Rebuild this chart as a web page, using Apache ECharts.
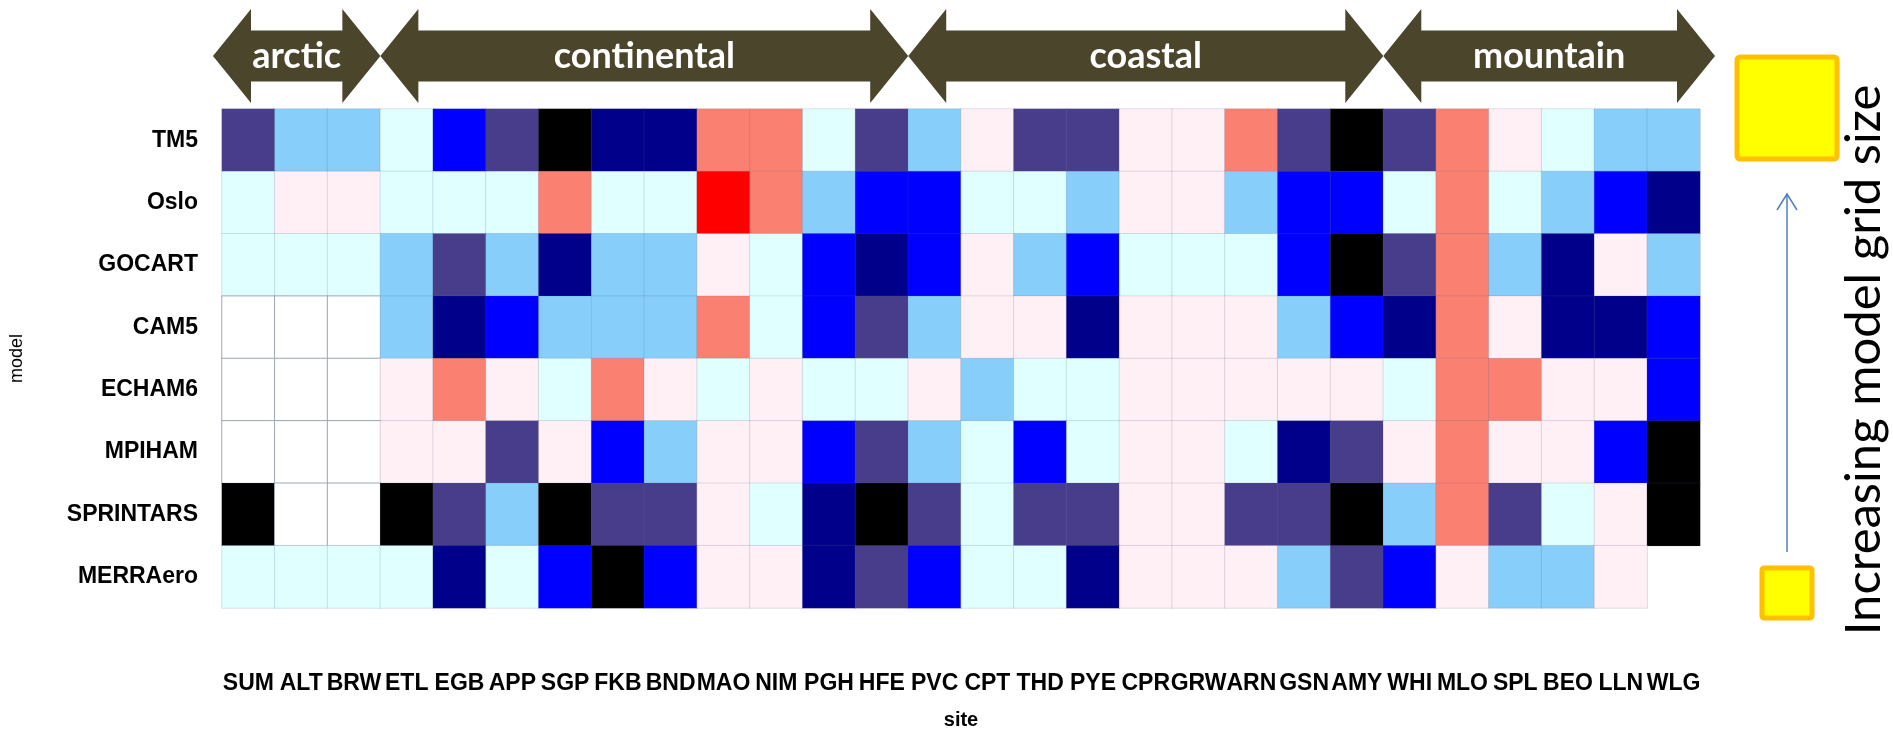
<!DOCTYPE html>
<html><head><meta charset="utf-8">
<script src="https://cdn.jsdelivr.net/npm/echarts@6/dist/echarts.min.js"></script>
<style>html,body{margin:0;padding:0;background:#fff}#c{width:1893px;height:735px}</style>
</head><body><div id="c"></div><script>
// ---- data ----
const sites = ['SUM','ALT','BRW','ETL','EGB','APP','SGP','FKB','BND','MAO','NIM','PGH','HFE','PVC','CPT','THD','PYE','CPR','GRW','ARN','GSN','AMY','WHI','MLO','SPL','BEO','LLN','WLG'];
const models = ['TM5','Oslo','GOCART','CAM5','ECHAM6','MPIHAM','SPRINTARS','MERRAero'];
// class codes per site (K black, N navy, B blue, S slate, L light sky, C light cyan, P blush, O salmon, R red, W no data, null missing)
const rowTM5      = ['S','L','L','C','B','S','K','N','N','O','O','C','S','L','P','S','S','P','P','O','S','K','S','O','P','C','L','L'];
const rowOslo     = ['C','P','P','C','C','C','O','C','C','R','O','L','B','B','C','C','L','P','P','L','B','B','C','O','C','L','B','N'];
const rowGOCART   = ['C','C','C','L','S','L','N','L','L','P','C','B','N','B','P','L','B','C','C','C','B','K','S','O','L','N','P','L'];
const rowCAM5     = ['W','W','W','L','N','B','L','L','L','O','C','B','S','L','P','P','N','P','P','P','L','B','N','O','P','N','N','B'];
const rowECHAM6   = ['W','W','W','P','O','P','C','O','P','C','P','C','C','P','L','C','C','P','P','P','P','P','C','O','O','P','P','B'];
const rowMPIHAM   = ['W','W','W','P','P','S','P','B','L','P','P','B','S','L','C','B','C','P','P','C','N','S','P','O','P','P','B','K'];
const rowSPRINTARS= ['K','W','W','K','S','L','K','S','S','P','C','N','K','S','C','S','S','P','P','S','S','K','L','O','S','C','P','K'];
const rowMERRAero = ['C','C','C','C','N','C','B','K','B','P','P','N','S','B','C','C','N','P','P','P','L','S','B','P','L','L','P',null];
const rows = [rowTM5,rowOslo,rowGOCART,rowCAM5,rowECHAM6,rowMPIHAM,rowSPRINTARS,rowMERRAero];
const classCodes = ['K','N','B','S','L','C','P','O','R','W'];
const regionNames = ['arctic','continental','coastal','mountain'];
const regionStart = ['SUM','ETL','PVC','WHI'];
const regionEnd   = ['BRW','HFE','AMY','WLG'];
const legendText = 'Increasing model grid size';

// ---- styles ----
const classColors = {K:'#000000',N:'#00008B',B:'#0000FF',S:'#483D8B',L:'#87CEFA',C:'#E0FFFF',P:'#FFF0F5',O:'#FA8072',R:'#FF0000',W:'#FFFFFF'};
const arrowColor = '#4A452B';
const narrowFont = "'Liberation Sans Narrow','Liberation Sans',Arial,sans-serif";
const sansFont = "'Liberation Sans',Arial,sans-serif";

const data = [];
rows.forEach((r, m) => r.forEach((c, s) => {
  if (c === null) return;
  const item = {value: [s, m, classCodes.indexOf(c)]};
  if (c === 'W') item.itemStyle = {borderColor: '#9AAAB8', borderWidth: 1};
  data.push(item);
}));

const chart = echarts.init(document.getElementById('c'), null, {renderer: 'canvas'});
const G = {left: 216, top: 109, width: 1484, height: 512};
chart.setOption({
  animation: false,
  backgroundColor: '#fff',
  grid: G,
  xAxis: {
    type: 'category', data: sites, position: 'bottom',
    axisLine: {show: false}, axisTick: {show: false}, splitLine: {show: false},
    axisLabel: {interval: 0, margin: 64, fontFamily: narrowFont, fontWeight: 'bold', fontSize: 23, color: '#000'},
    name: 'site', nameLocation: 'middle', nameGap: 102,
    nameTextStyle: {fontFamily: narrowFont, fontWeight: 'bold', fontSize: 20, color: '#000'}
  },
  yAxis: {
    type: 'category', data: models, inverse: true,
    axisLine: {show: false}, axisTick: {show: false}, splitLine: {show: false},
    axisLabel: {interval: 0, margin: 24, fontFamily: sansFont, fontWeight: 'bold', fontSize: 23, color: '#000'},
    name: 'model', nameLocation: 'middle', nameGap: 196, nameRotate: 90,
    nameTextStyle: {fontFamily: sansFont, fontSize: 18, color: '#000'}
  },
  visualMap: {
    type: 'piecewise', show: false, dimension: 2,
    pieces: classCodes.map((c, i) => ({value: i, color: classColors[c]}))
  },
  series: [{
    type: 'heatmap', data: data,
    itemStyle: {borderColor: 'rgba(90,100,140,0.18)', borderWidth: 1},
    emphasis: {disabled: true}
  }]
});

// ---- region arrows (positions from the x axis) ----
const px = v => chart.convertToPixel({xAxisIndex: 0}, v);
const half = (px(sites[1]) - px(sites[0])) / 2;
const cy = 56, H = 47, b = 25.5, h = 38;
const graphics = [];
regionNames.forEach((name, i) => {
  let x0 = px(regionStart[i]) - half, x1 = px(regionEnd[i]) + half;
  if (i === 0) x0 -= 9;
  if (i === regionNames.length - 1) x1 += 15;
  graphics.push({
    type: 'polygon',
    shape: {points: [[x0, cy], [x0 + h, cy - H], [x0 + h, cy - b], [x1 - h, cy - b], [x1 - h, cy - H], [x1, cy],
                     [x1 - h, cy + H], [x1 - h, cy + b], [x0 + h, cy + b], [x0 + h, cy + H]]},
    style: {fill: arrowColor}
  });
  graphics.push({
    type: 'text', x: (x0 + x1) / 2, y: cy,
    style: {text: name, fill: '#fff', font: "bold 36px Lato, 'Open Sans', sans-serif", align: 'center', verticalAlign: 'middle'}
  });
});
// ---- grid-size annotation on the right ----
graphics.push({type: 'rect', shape: {x: 1737, y: 57, width: 100, height: 102, r: 3}, style: {fill: '#FFFF00', stroke: '#FFC000', lineWidth: 5}});
graphics.push({type: 'rect', shape: {x: 1762, y: 568, width: 50, height: 50, r: 2}, style: {fill: '#FFFF00', stroke: '#FFC000', lineWidth: 5}});
graphics.push({type: 'line', shape: {x1: 1787, y1: 552, x2: 1787, y2: 194}, style: {stroke: '#4F81BD', lineWidth: 1.5}});
graphics.push({type: 'polyline', shape: {points: [[1777, 210], [1787, 194], [1797, 210]]}, style: {stroke: '#4F81BD', lineWidth: 1.5, fill: null}});
graphics.push({
  type: 'text', x: 1864, y: 360, rotation: Math.PI / 2,
  style: {text: legendText, fill: '#000', font: "49px Lato, 'Open Sans', sans-serif", align: 'center', verticalAlign: 'middle'}
});
chart.setOption({graphic: graphics});
</script></body></html>
